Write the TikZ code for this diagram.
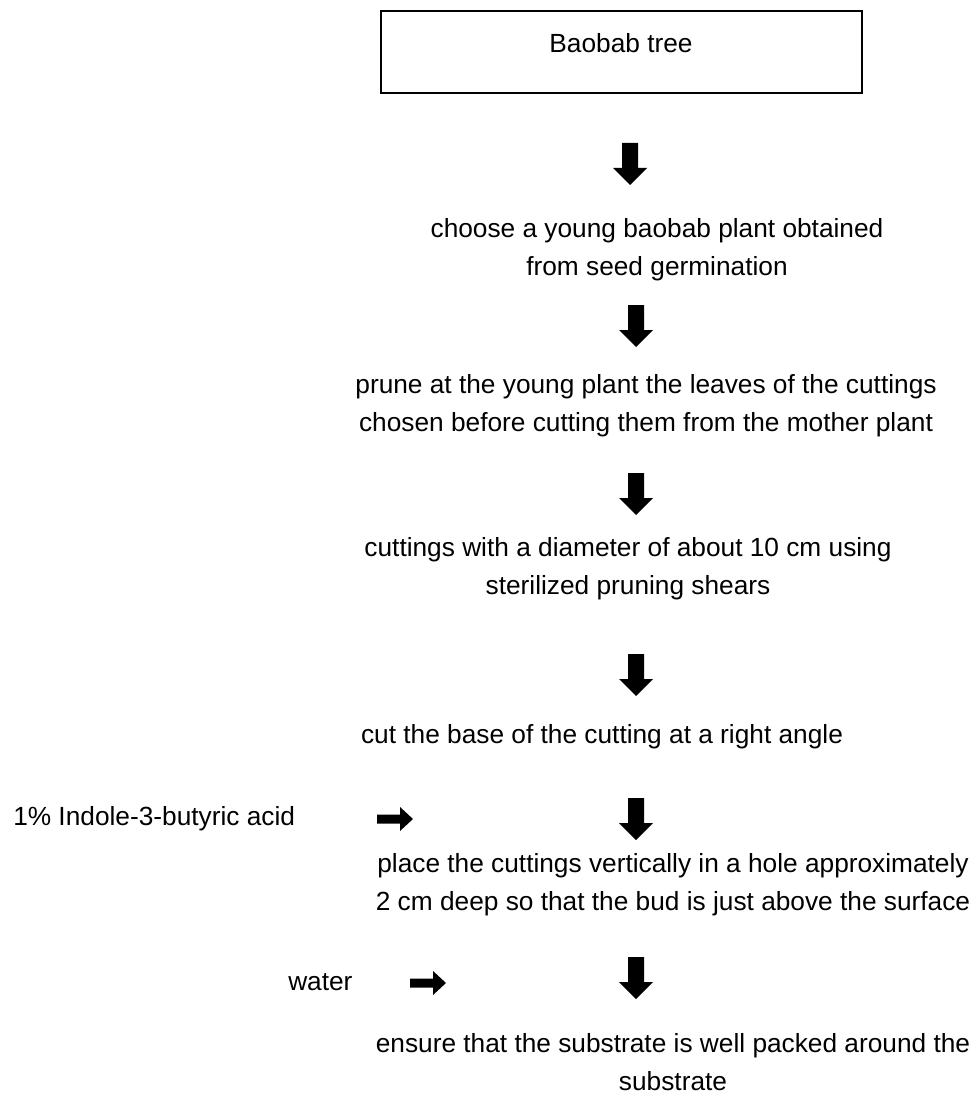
\documentclass[tikz,border=0pt]{standalone}
\usepackage{fontspec}
\setmainfont{Liberation Sans}

\begin{document}
\begin{tikzpicture}[x=0.75pt,y=-0.75pt]
% Styles
\tikzstyle{stage text}=[font=\fontsize{19.7}{28.5}\selectfont, align=center, inner sep=0pt]
\tikzstyle{side text}=[stage text, anchor=base west]
\useasboundingbox (0,0) rectangle (971,1102);
% The box on top
\draw[line width=1.5pt] (381,11) rectangle (862,93);
\node[stage text, anchor=base] (tree) at (621,53) {Baobab tree};
% The steps
\node[stage text] (seed) at (657,250)
  {choose a young baobab plant obtained\\from seed germination};
\node[stage text] (prune) at (646,406)
  {prune at the young plant the leaves of the cuttings\\chosen before cutting them from the mother plant};
\node[stage text] (shears) at (628,569)
  {cuttings with a diameter of about 10 cm using\\sterilized pruning shears};
\node[stage text, anchor=base] (base) at (602,743)
  {cut the base of the cutting at a right angle};
\node[stage text] (hole) at (673,885)
  {place the cuttings vertically in a hole approximately\\2 cm deep so that the bud is just above the surface};
\node[stage text] (packed) at (673,1062)
  {ensure that the substrate is well packed around the\\substrate};
% What is added
\node[side text] (acid) at (13,825) {1\% Indole-3-butyric acid};
\node[side text] (water) at (288,990) {water};
% draw the arrows down the middle
\foreach \x/\y in {630/143, 636/305, 636/473, 636/654, 636/798, 636/957}
  \fill ({\x-8},\y) -- ({\x+8},\y) -- ({\x+8},{\y+25}) -- ({\x+17},{\y+25})
    -- (\x,{\y+42}) -- ({\x-17},{\y+25}) -- ({\x-8},{\y+25}) -- cycle;
% and the two arrows from the side
\foreach \x/\y in {377/819, 410/983}
  \fill (\x,{\y-4.5}) -- ({\x+23},{\y-4.5}) -- ({\x+23},{\y-12}) -- ({\x+36},\y)
    -- ({\x+23},{\y+12}) -- ({\x+23},{\y+4.5}) -- (\x,{\y+4.5}) -- cycle;
\end{tikzpicture}
\end{document}
